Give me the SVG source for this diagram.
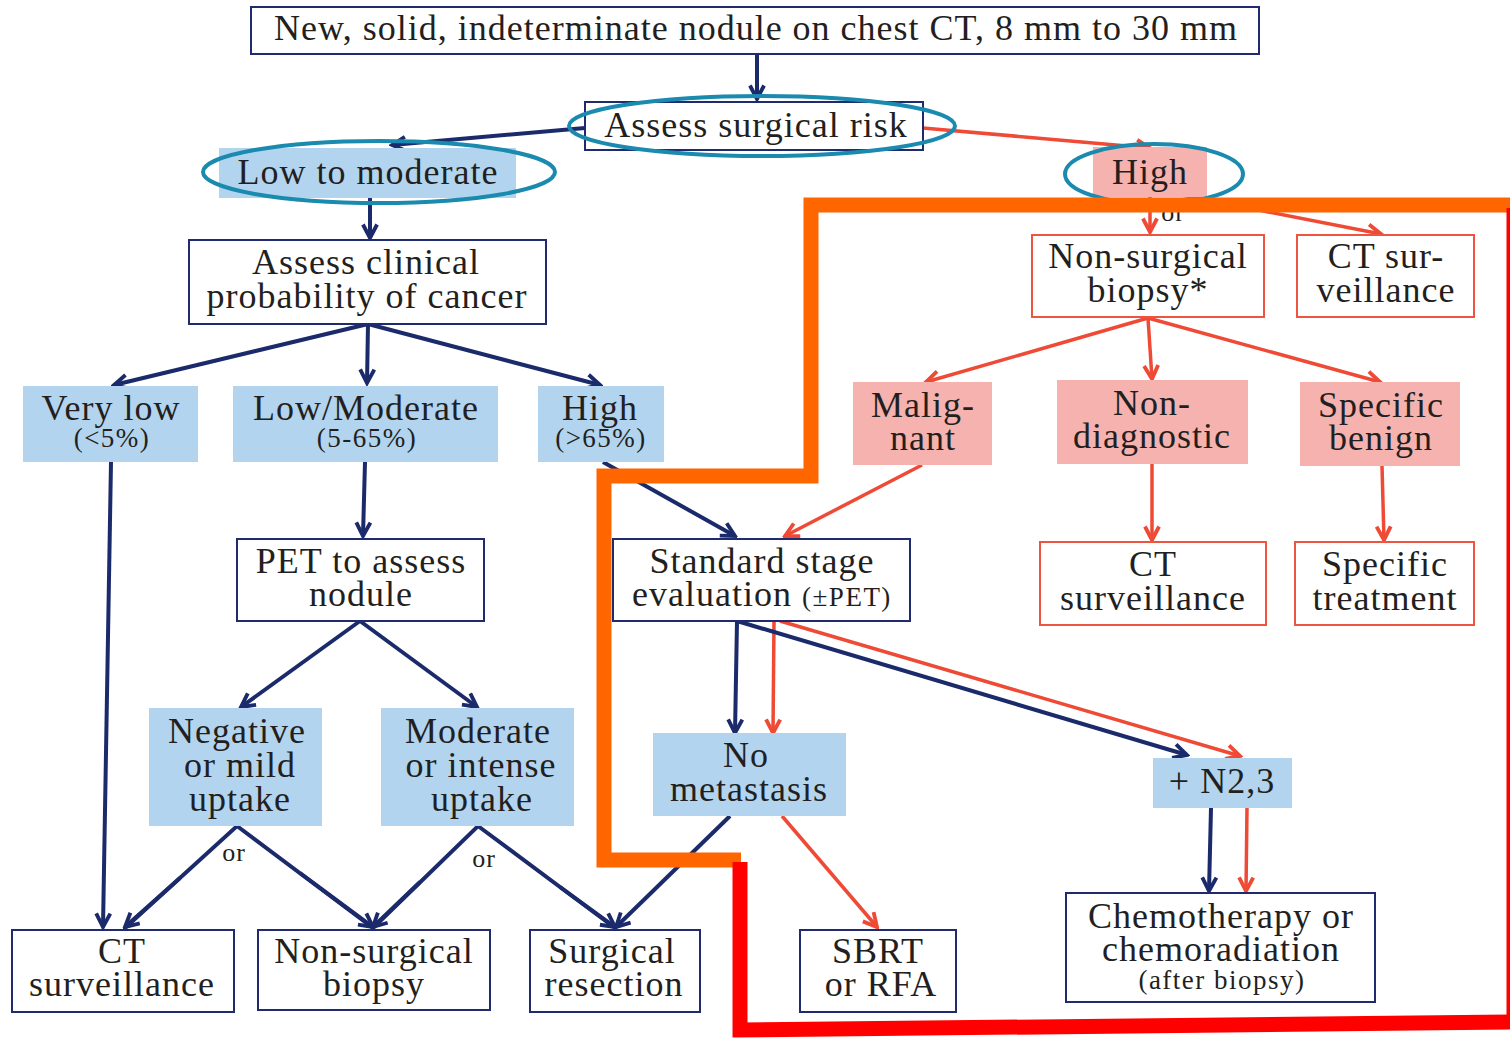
<svg xmlns="http://www.w3.org/2000/svg" width="1510" height="1038" viewBox="0 0 1510 1038">
  <style>
    text { font-family: "Liberation Serif", Tinos, "DejaVu Serif", "Times New Roman", serif; fill: #231f20; text-anchor: middle; }
    .t { font-size: 36px; letter-spacing: 1px; }
    .s { font-size: 27px; letter-spacing: 1.5px; }
    .o { font-size: 26px; letter-spacing: 1px; }
    .bn { fill: #ffffff; stroke: #1f2b6e; stroke-width: 2; }
    .br { fill: #ffffff; stroke: #ef5440; stroke-width: 2; }
    .fb { fill: #b2d4ef; }
    .fp { fill: #f5b2ae; }
    .cn { fill: none; stroke: #1b2a6b; stroke-width: 4; }
    .cr { fill: none; stroke: #ef4a35; stroke-width: 3.5; }
    .ln { fill: none; stroke: #1b2a6b; stroke-width: 4; }
    .ring { fill: none; stroke: #1a8aaf; stroke-width: 4; }
    .frO { fill: none; stroke: #ff6600; stroke-width: 15; stroke-linejoin: miter; }
    .frR { fill: none; stroke: #ff0000; stroke-width: 15; stroke-linejoin: miter; }
  </style>
  <defs>
    <marker id="an" viewBox="0 0 14 14" refX="12" refY="7" markerWidth="18" markerHeight="18" markerUnits="userSpaceOnUse" orient="auto">
      <path d="M1.5,1.5 L12,7 L1.5,12.5" fill="none" stroke="#1b2a6b" stroke-width="3"/>
    </marker>
    <marker id="ar" viewBox="0 0 14 14" refX="12" refY="7" markerWidth="18" markerHeight="18" markerUnits="userSpaceOnUse" orient="auto">
      <path d="M1.5,1.5 L12,7 L1.5,12.5" fill="none" stroke="#ef4a35" stroke-width="3"/>
    </marker>
  </defs>

  <rect width="1510" height="1038" fill="#ffffff"/>

  <!-- connectors -->
  <g id="connectors">
    <line class="cn" x1="757" y1="54" x2="757" y2="99" marker-end="url(#an)"/>
    <line class="cn" x1="585" y1="128" x2="392" y2="145" marker-end="url(#an)"/>
    <line class="cr" x1="923" y1="128" x2="1150" y2="148" marker-end="url(#ar)"/>
    <line class="cn" x1="370" y1="198" x2="370" y2="238" marker-end="url(#an)"/>
    <line class="cn" x1="368" y1="324" x2="114" y2="385" marker-end="url(#an)"/>
    <line class="cn" x1="368" y1="324" x2="367" y2="383" marker-end="url(#an)"/>
    <line class="cn" x1="368" y1="324" x2="600" y2="385" marker-end="url(#an)"/>
    <line class="cn" x1="111" y1="462" x2="103" y2="927" marker-end="url(#an)"/>
    <line class="cn" x1="365" y1="462" x2="363" y2="536" marker-end="url(#an)"/>
    <line class="cn" x1="360" y1="621" x2="241" y2="707" marker-end="url(#an)"/>
    <line class="cn" x1="360" y1="621" x2="477" y2="707" marker-end="url(#an)"/>
    <polyline class="ln" points="125,928 237,826 373,928"/>
    <line class="cn" x1="300" y1="873" x2="373" y2="927" marker-end="url(#an)"/>
    <line class="cn" x1="180" y1="878" x2="125" y2="927" marker-end="url(#an)"/>
    <polyline class="ln" points="373,928 478,826 615,928"/>
    <line class="cn" x1="420" y1="882" x2="373" y2="927" marker-end="url(#an)"/>
    <line class="cn" x1="560" y1="887" x2="615" y2="927" marker-end="url(#an)"/>
    <line class="cn" x1="603" y1="462" x2="735" y2="536" marker-end="url(#an)"/>
    <line class="cr" x1="922" y1="465" x2="785" y2="536" marker-end="url(#ar)"/>
    <line class="cn" x1="737" y1="621" x2="735" y2="733" marker-end="url(#an)"/>
    <line class="cr" x1="774" y1="621" x2="773" y2="733" marker-end="url(#ar)"/>
    <line class="cn" x1="737" y1="621" x2="1187" y2="755" marker-end="url(#an)"/>
    <line class="cr" x1="780" y1="621" x2="1240" y2="756" marker-end="url(#ar)"/>
    <line class="cn" x1="730" y1="816" x2="616" y2="927" marker-end="url(#an)"/>
    <line class="cr" x1="782" y1="816" x2="877" y2="927" marker-end="url(#ar)"/>
    <line class="cn" x1="1211" y1="808" x2="1209" y2="891" marker-end="url(#an)"/>
    <line class="cr" x1="1247" y1="808" x2="1246" y2="891" marker-end="url(#ar)"/>
    <line class="cr" x1="1150" y1="197" x2="1150" y2="232" marker-end="url(#ar)"/>
    <line class="cr" x1="1156" y1="190" x2="1381" y2="234" marker-end="url(#ar)"/>
    <line class="cr" x1="1148" y1="318" x2="926" y2="382" marker-end="url(#ar)"/>
    <line class="cr" x1="1148" y1="318" x2="1152" y2="379" marker-end="url(#ar)"/>
    <line class="cr" x1="1148" y1="318" x2="1380" y2="382" marker-end="url(#ar)"/>
    <line class="cr" x1="1152" y1="464" x2="1152" y2="540" marker-end="url(#ar)"/>
    <line class="cr" x1="1382" y1="466" x2="1384" y2="540" marker-end="url(#ar)"/>
    <text class="o" x="234" y="861">or</text>
    <text class="o" x="484" y="867">or</text>
    <text class="o" x="1173" y="221">or</text>
  </g>

  <!-- nodes -->
  <g id="n-start">
    <rect class="bn" x="251" y="7" width="1008" height="47"/>
    <text class="t" x="756" y="40">New, solid, indeterminate nodule on chest CT, 8 mm to 30 mm</text>
  </g>
  <g id="n-surgical-risk">
    <rect class="bn" x="585" y="102" width="338" height="48"/>
    <text class="t" x="756" y="137">Assess surgical risk</text>
  </g>
  <g id="n-low-moderate">
    <rect class="fb" x="219" y="148" width="297" height="50"/>
    <text class="t" x="368" y="184">Low to moderate</text>
  </g>
  <g id="n-high-risk">
    <rect class="fp" x="1093" y="147" width="114" height="50"/>
    <text class="t" x="1150" y="184">High</text>
  </g>
  <g id="n-clinical">
    <rect class="bn" x="189" y="240" width="357" height="84"/>
    <text class="t" x="366" y="274">Assess clinical</text>
    <text class="t" x="367" y="308">probability of cancer</text>
  </g>
  <g id="n-very-low">
    <rect class="fb" x="23" y="386" width="175" height="76"/>
    <text class="t" x="111" y="420">Very low</text>
    <text class="s" x="112" y="447">(&lt;5%)</text>
  </g>
  <g id="n-lowmod">
    <rect class="fb" x="233" y="386" width="265" height="76"/>
    <text class="t" x="366" y="420">Low/Moderate</text>
    <text class="s" x="367" y="447">(5-65%)</text>
  </g>
  <g id="n-high-prob">
    <rect class="fb" x="538" y="386" width="126" height="76"/>
    <text class="t" x="600" y="420">High</text>
    <text class="s" x="601" y="447">(&gt;65%)</text>
  </g>
  <g id="n-pet">
    <rect class="bn" x="237" y="539" width="247" height="82"/>
    <text class="t" x="361" y="573">PET to assess</text>
    <text class="t" x="361" y="606">nodule</text>
  </g>
  <g id="n-negative">
    <rect class="fb" x="149" y="708" width="173" height="118"/>
    <text class="t" x="237" y="743">Negative</text>
    <text class="t" x="240" y="777">or mild</text>
    <text class="t" x="240" y="811">uptake</text>
  </g>
  <g id="n-moderate">
    <rect class="fb" x="381" y="708" width="193" height="118"/>
    <text class="t" x="478" y="743">Moderate</text>
    <text class="t" x="481" y="777">or intense</text>
    <text class="t" x="482" y="811">uptake</text>
  </g>
  <g id="n-ct-surv-left">
    <rect class="bn" x="12" y="930" width="222" height="82"/>
    <text class="t" x="122" y="963">CT</text>
    <text class="t" x="122" y="996">surveillance</text>
  </g>
  <g id="n-biopsy-left">
    <rect class="bn" x="258" y="930" width="232" height="80"/>
    <text class="t" x="374" y="963">Non-surgical</text>
    <text class="t" x="374" y="996">biopsy</text>
  </g>
  <g id="n-resection">
    <rect class="bn" x="530" y="930" width="170" height="82"/>
    <text class="t" x="612" y="963">Surgical</text>
    <text class="t" x="614" y="996">resection</text>
  </g>
  <g id="n-staging">
    <rect class="bn" x="613" y="539" width="297" height="82"/>
    <text class="t" x="762" y="573">Standard stage</text>
    <text x="762" y="606"><tspan class="t">evaluation </tspan><tspan class="s">(±PET)</tspan></text>
  </g>
  <g id="n-no-meta">
    <rect class="fb" x="653" y="733" width="193" height="83"/>
    <text class="t" x="746" y="767">No</text>
    <text class="t" x="749" y="801">metastasis</text>
  </g>
  <g id="n-sbrt">
    <rect class="bn" x="800" y="930" width="156" height="82"/>
    <text class="t" x="878" y="963">SBRT</text>
    <text class="t" x="881" y="996">or RFA</text>
  </g>
  <g id="n-n23">
    <rect class="fb" x="1153" y="758" width="139" height="50"/>
    <text class="t" x="1222" y="793">+ N2,3</text>
  </g>
  <g id="n-chemo">
    <rect class="bn" x="1066" y="893" width="309" height="109"/>
    <text class="t" x="1221" y="928">Chemotherapy or</text>
    <text class="t" x="1221" y="961">chemoradiation</text>
    <text class="s" x="1222" y="989">(after biopsy)</text>
  </g>
  <g id="n-biopsy-right">
    <rect class="br" x="1032" y="235" width="232" height="82"/>
    <text class="t" x="1148" y="268">Non-surgical</text>
    <text class="t" x="1148" y="302">biopsy*</text>
  </g>
  <g id="n-ct-surv-top">
    <rect class="br" x="1297" y="235" width="177" height="82"/>
    <text class="t" x="1386" y="268">CT sur-</text>
    <text class="t" x="1386" y="302">veillance</text>
  </g>
  <g id="n-malignant">
    <rect class="fp" x="853" y="382" width="139" height="83"/>
    <text class="t" x="923" y="417">Malig-</text>
    <text class="t" x="923" y="450">nant</text>
  </g>
  <g id="n-nondiag">
    <rect class="fp" x="1057" y="380" width="191" height="84"/>
    <text class="t" x="1152" y="415">Non-</text>
    <text class="t" x="1152" y="448">diagnostic</text>
  </g>
  <g id="n-benign">
    <rect class="fp" x="1300" y="382" width="160" height="84"/>
    <text class="t" x="1381" y="417">Specific</text>
    <text class="t" x="1381" y="450">benign</text>
  </g>
  <g id="n-ct-surv-mid">
    <rect class="br" x="1040" y="542" width="226" height="83"/>
    <text class="t" x="1153" y="576">CT</text>
    <text class="t" x="1153" y="610">surveillance</text>
  </g>
  <g id="n-treatment">
    <rect class="br" x="1295" y="542" width="179" height="83"/>
    <text class="t" x="1385" y="576">Specific</text>
    <text class="t" x="1385" y="610">treatment</text>
  </g>

  <!-- highlight rings -->
  <g id="rings">
    <ellipse class="ring" cx="762" cy="126" rx="193" ry="30"/>
    <ellipse class="ring" cx="379" cy="172" rx="176" ry="31"/>
    <ellipse class="ring" cx="1154" cy="174" rx="89" ry="30"/>
  </g>

  <!-- outline around the high-risk pathway -->
  <g id="frame">
    <polyline class="frO" points="1510,205 811,205 811,476 604,476 604,860 741,860"/>
    <polyline class="frR" points="740,862 740,1030 1510,1022"/>
    <line class="frR" x1="1514" y1="208" x2="1514" y2="1022" stroke-width="14"/>
  </g>
</svg>
